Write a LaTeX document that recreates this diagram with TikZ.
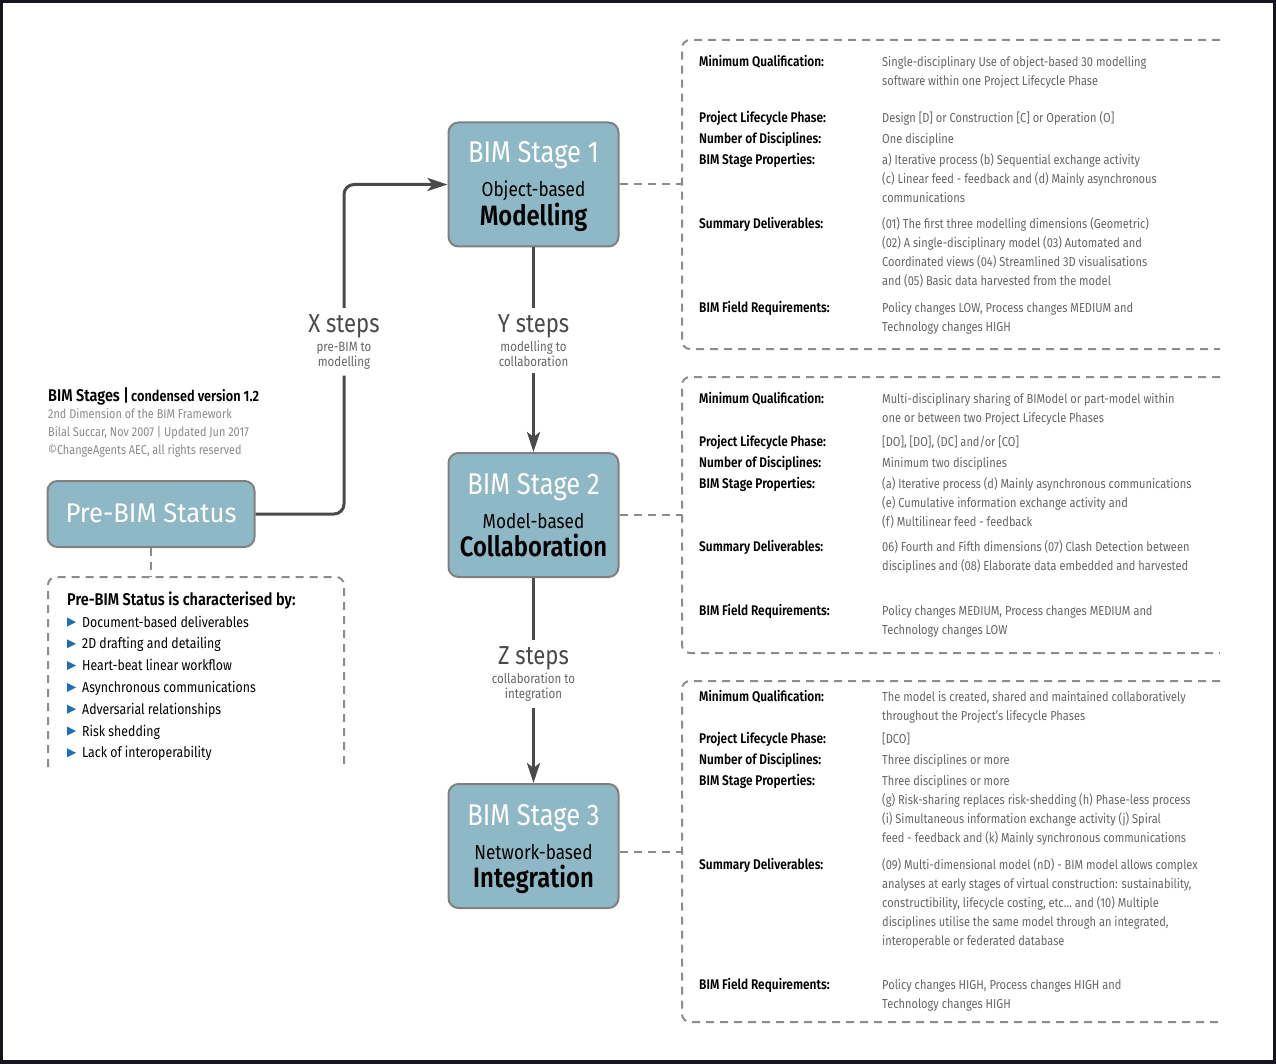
\documentclass[tikz,border=0pt]{standalone}
\usepackage{fontspec}
\setmainfont{Fira Sans}[FakeStretch=0.85, BoldFont={Fira Sans SemiBold}]
\newfontfamily\widefont{Fira Sans}[FakeStretch=0.95]
\usetikzlibrary{arrows.meta}

\definecolor{stagefill}{HTML}{8FB8C6}
\definecolor{stageline}{HTML}{808080}
\definecolor{flowline}{HTML}{4A4A4A}
\definecolor{dashline}{HTML}{8C8C8C}
\definecolor{valuegray}{HTML}{666666}
\definecolor{notegray}{HTML}{8A8A8A}
\definecolor{bulletblue}{HTML}{1F6FB2}
\definecolor{framedark}{HTML}{16161F}

\newcommand{\fs}[1]{\fontsize{#1}{#1}\selectfont}

% one row of a stage panel: name, baseline, label, lines of the value
\newcommand{\bimrow}[4]{%
  \node[rowlabel] (#1L) at (699,#2) {#3};
  \foreach \rowtext [count=\k] in {#4} {
    \node[rowvalue] (#1V\k) at (882,{#2+19*(\k-1)}) {\rowtext};
  }%
}

\begin{document}
\begin{tikzpicture}[x=1pt, y=-1pt,
  stagebox/.style={draw=stageline, line width=2pt, fill=stagefill, rounded corners=10pt, minimum width=170pt, minimum height=124pt, inner sep=0pt},
  prebox/.style={stagebox, minimum width=207pt, minimum height=66pt},
  stagetitle/.style={anchor=base, inner sep=0pt, text=white, font=\fs{30}},
  stagesub/.style={anchor=base, inner sep=0pt, font=\fs{20.2}},
  stagename/.style={anchor=base, inner sep=0pt, font=\fs{28}\bfseries},
  flow/.style={draw=flowline, line width=3pt, rounded corners=10pt},
  tip/.style={-{Stealth[length=20pt, width=13pt, inset=5pt]}},
  steps/.style={anchor=base, inner sep=2pt, text=flowline, font=\fs{26}},
  stepsub/.style={anchor=base, inner sep=1pt, text=valuegray, font=\fs{13.5}},
  dashbox/.style={draw=dashline, line width=2pt, dash pattern=on 8pt off 6pt, rounded corners=8pt},
  dashlink/.style={draw=dashline, line width=2pt, dash pattern=on 8pt off 6pt},
  rowlabel/.style={anchor=base west, inner sep=0pt, font=\fs{14}\bfseries},
  rowvalue/.style={anchor=base west, inner sep=0pt, text=valuegray, font=\fs{13}},
  note/.style={anchor=base west, inner sep=0pt, text=notegray, font=\fs{12.8}},
  bullettext/.style={anchor=base west, inner sep=0pt, font=\fs{14.5}}
]
% frame
\fill[framedark] (0,0) rectangle (1276,1064);
\fill[white] (3,3) rectangle (1273,1060);

% stages
\node[stagebox] (S1) at (533.5,184.5) {};
\node[stagetitle] (S1T) at (533.5,163) {BIM Stage 1};
\node[stagesub] (S1S) at (533.5,197) {Object-based};
\node[stagename] (S1N) at (533.5,225.5) {Modelling};
\node[stagebox] (S2) at (533.5,515) {};
\node[stagetitle] (S2T) at (533.5,494) {BIM Stage 2};
\node[stagesub] (S2S) at (533.5,528) {Model-based};
\node[stagename] (S2N) at (533.5,556.5) {Collaboration};
\node[stagebox] (S3) at (533.5,846) {};
\node[stagetitle] (S3T) at (533.5,825) {BIM Stage 3};
\node[stagesub] (S3S) at (533.5,859) {Network-based};
\node[stagename] (S3N) at (533.5,887.5) {Integration};
\node[prebox] (PB) at (151,514) {};
\node[stagetitle, font=\widefont\fs{27}] (PBT) at (151,522) {Pre-BIM Status};

% steps
\node[steps] (X1) at (344,332) {X steps};
\node[stepsub] (X2) at (344,351.5) {pre-BIM to};
\node[stepsub] (X3) at (344,366.5) {modelling};
\node[steps] (Y1) at (533.5,332) {Y steps};
\node[stepsub] (Y2) at (533.5,351.5) {modelling to};
\node[stepsub] (Y3) at (533.5,366.5) {collaboration};
\node[steps] (Z1) at (533.5,664) {Z steps};
\node[stepsub] (Z2) at (533.5,683.5) {collaboration to};
\node[stepsub] (Z3) at (533.5,698.5) {integration};

\draw[flow, shorten >=5pt] (PB.east) -| (X3.south);
\draw[flow, tip, shorten <=4pt] (X1.north) |- (S1.west);
\draw[flow, shorten >=4pt] (S1.south) -- (Y1.north);
\draw[flow, tip, shorten <=5pt] (Y3.south) -- (S2.north);
\draw[flow, shorten >=4pt] (S2.south) -- (Z1.north);
\draw[flow, tip, shorten <=5pt] (Z3.south) -- (S3.north);

% title
\node[anchor=base west, inner sep=0pt] (T0) at (48,401) {{\fs{17}\bfseries BIM Stages |} {\fs{15}\bfseries condensed version 1.2}};
\node[note] (T1) at (48,418.5) {2nd Dimension of the BIM Framework};
\node[note] (T2) at (48,436.5) {Bilal Succar, Nov 2007 | Updated Jun 2017};
\node[note] (T3) at (48,454.5) {©ChangeAgents AEC, all rights reserved};

% pre-BIM panel
\coordinate (PBP) at (151,577);
\draw[dashlink] (PB.south) -- (PBP);
\draw[dashbox] (48,767) |- (344,577) -- (344,767);
\node[anchor=base west, inner sep=0pt, font=\fs{17}\bfseries] (PBH) at (67,605) {Pre-BIM Status is characterised by:};
\foreach \entry [count=\i] in {Document-based deliverables, 2D drafting and detailing, Heart-beat linear workflow, Asynchronous communications, Adversarial relationships, Risk shedding, Lack of interoperability} {
  \pgfmathsetmacro\by{622+21.8*(\i-1)}
  \fill[bulletblue] (67,\by-4.5) -- (76,\by) -- (67,\by+4.5) -- cycle;
  \node[bullettext] (B\i) at (82,\by+5) {\entry};
}

% stage panels
\coordinate (P1) at (682,184.5);
\coordinate (P2) at (682,515);
\coordinate (P3) at (682,852);
\draw[dashlink] (S1.east) -- (P1);
\draw[dashlink] (S2.east) -- (P2);
\draw[dashlink] (S3.east |- P3) -- (P3);
\draw[dashbox] (1220,40) -| (682,349) -- (1220,349);
\draw[dashbox] (1220,377) -| (682,653) -- (1220,653);
\draw[dashbox] (1220,681) -| (682,1022) -- (1220,1022);

\bimrow{A1}{66.5}{Minimum Qualification:}{Single-disciplinary Use of object-based 30 modelling, software within one Project Lifecycle Phase}
\bimrow{A2}{123}{Project Lifecycle Phase:}{Design [D] or Construction [C] or Operation (O]}
\bimrow{A3}{144}{Number of Disciplines:}{One discipline}
\bimrow{A4}{164.5}{BIM Stage Properties:}{a) Iterative process (b) Sequential exchange activity, (c) Linear feed - feedback and (d) Mainly asynchronous, communications}
\bimrow{A5}{228.5}{Summary Deliverables:}{(01) The first three modelling dimensions (Geometric), (02) A single-disciplinary model (03) Automated and, Coordinated views (04) Streamlined 3D visualisations, and (05) Basic data harvested from the model}
\bimrow{A6}{312.5}{BIM Field Requirements:}{{Policy changes LOW, Process changes MEDIUM and}, Technology changes HIGH}

\bimrow{B1}{403.5}{Minimum Qualification:}{Multi-disciplinary sharing of BIModel or part-model within, one or between two Project Lifecycle Phases}
\bimrow{B2}{446}{Project Lifecycle Phase:}{{[DO], [DO], (DC] and/or [CO]}}
\bimrow{B3}{467.5}{Number of Disciplines:}{Minimum two disciplines}
\bimrow{B4}{488.5}{BIM Stage Properties:}{(a) Iterative process (d) Mainly asynchronous communications, (e) Cumulative information exchange activity and, (f) Multilinear feed - feedback}
\bimrow{B5}{551.5}{Summary Deliverables:}{06) Fourth and Fifth dimensions (07) Clash Detection between, disciplines and (08) Elaborate data embedded and harvested}
\bimrow{B6}{615}{BIM Field Requirements:}{{Policy changes MEDIUM, Process changes MEDIUM and}, Technology changes LOW}

\bimrow{C1}{701}{Minimum Qualification:}{{The model is created, shared and maintained collaboratively}, throughout the Project's lifecycle Phases}
\bimrow{C2}{743}{Project Lifecycle Phase:}{[DCO]}
\bimrow{C3}{764.5}{Number of Disciplines:}{Three disciplines or more}
\bimrow{C4}{785.5}{BIM Stage Properties:}{Three disciplines or more, (g) Risk-sharing replaces risk-shedding (h) Phase-less process, (i) Simultaneous information exchange activity (j) Spiral, feed - feedback and (k) Mainly synchronous communications}
\bimrow{C5}{869.5}{Summary Deliverables:}{(09) Multi-dimensional model (nD) - BIM model allows complex, {analyses at early stages of virtual construction: sustainability,}, {constructibility, lifecycle costing, etc… and (10) Multiple}, {disciplines utilise the same model through an integrated,}, interoperable or federated database}
\bimrow{C6}{989.5}{BIM Field Requirements:}{{Policy changes HIGH, Process changes HIGH and}, Technology changes HIGH}
\end{tikzpicture}
\end{document}
